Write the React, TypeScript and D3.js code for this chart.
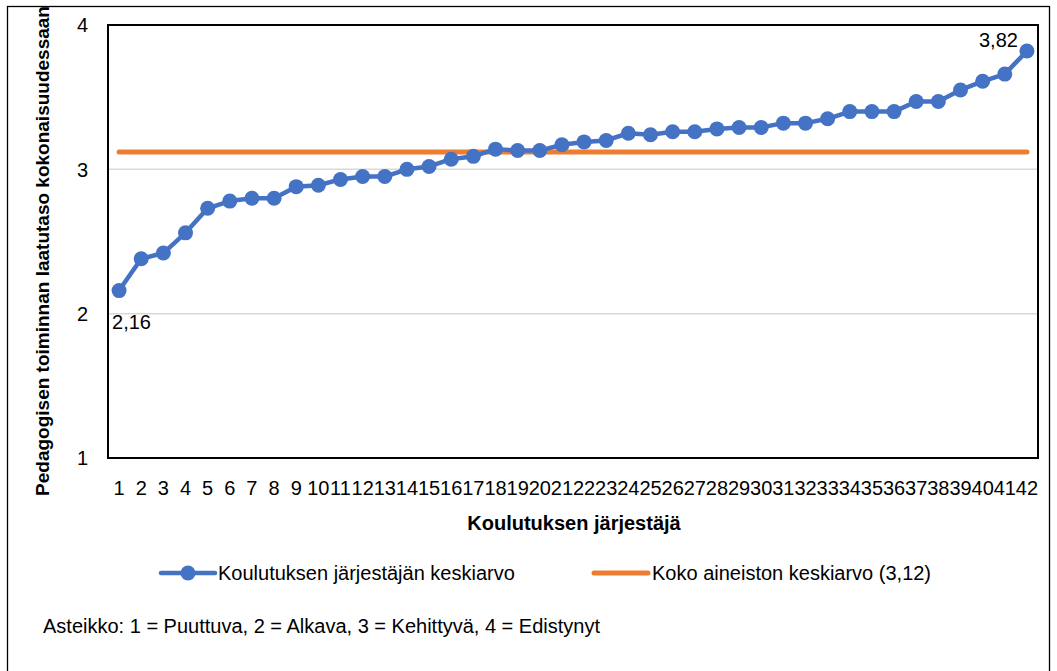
import React from "react";
import * as d3 from "d3";

// Organisers (1..42) sorted by their mean score
const providers: string[] = Array.from({ length: 42 }, (_, i) => String(i + 1));
const providerMeans: number[] = [
  2.16, 2.38, 2.42, 2.56, 2.73, 2.78, 2.8, 2.8, 2.88, 2.89,
  2.93, 2.95, 2.95, 3.0, 3.02, 3.07, 3.09, 3.14, 3.13, 3.13,
  3.17, 3.19, 3.2, 3.25, 3.24, 3.26, 3.26, 3.28, 3.29, 3.29,
  3.32, 3.32, 3.35, 3.4, 3.4, 3.4, 3.47, 3.47, 3.55, 3.61,
  3.66, 3.82,
];
const overallMean = 3.12;
const yTicks: number[] = [1, 2, 3, 4];

const seriesLabel = "Koulutuksen järjestäjän keskiarvo";
const overallLabel = "Koko aineiston keskiarvo (3,12)";
const xTitle = "Koulutuksen järjestäjä";
const yTitle = "Pedagogisen toiminnan laatutaso kokonaisuudessaan";
const scaleNote = "Asteikko: 1 = Puuttuva, 2 = Alkava, 3 = Kehittyvä, 4 = Edistynyt";

const W = 1057;
const H = 671;
const plot = { left: 108, right: 1038, top: 25, bottom: 458 };
const FONT = "'Liberation Sans', Arial, sans-serif";
const BLUE = "#4472C4";
const ORANGE = "#ED7D31";

const fmt = (v: number) => v.toFixed(2).replace(".", ",");

export default function App() {
  const x = d3
    .scaleBand<string>()
    .domain(providers)
    .range([plot.left, plot.right])
    .padding(0);
  const cx = (p: string) => (x(p) ?? 0) + x.bandwidth() / 2;
  const y = d3.scaleLinear().domain([1, 4]).range([plot.bottom, plot.top]);

  const line = d3
    .line<number>()
    .x((_, i) => cx(providers[i]))
    .y((d) => y(d));

  const first = providers[0];
  const last = providers[providers.length - 1];

  return (
    <svg
      width={W}
      height={H}
      style={{ position: "absolute", left: 0, top: 0, display: "block" }}
      fontFamily={FONT}
    >
      <rect x={0} y={0} width={W} height={H} fill="#fff" />
      {/* outer frame */}
      <rect x={7.5} y={6.5} width={1042} height={H + 10} fill="none" stroke="#000" strokeWidth={1.3} />

      {/* gridlines */}
      {yTicks.map((t) => (
        <line key={t} x1={plot.left} x2={plot.right} y1={y(t)} y2={y(t)} stroke="#d9d9d9" strokeWidth={1.5} />
      ))}

      {/* plot border */}
      <rect
        x={plot.left}
        y={plot.top}
        width={plot.right - plot.left}
        height={plot.bottom - plot.top}
        fill="none"
        stroke="#000"
        strokeWidth={2}
      />

      {/* y tick labels */}
      {yTicks.map((t) => (
        <text key={t} x={88} y={y(t)} dy="0.36em" textAnchor="end" fontSize={20} fill="#000">
          {t}
        </text>
      ))}

      {/* x tick labels */}
      {providers.map((p) => (
        <text key={p} x={cx(p)} y={495} textAnchor="middle" fontSize={20} fill="#000">
          {p}
        </text>
      ))}

      {/* overall mean */}
      <line x1={cx(first)} x2={cx(last)} y1={y(overallMean)} y2={y(overallMean)} stroke={ORANGE} strokeWidth={5} strokeLinecap="round" />

      {/* provider means */}
      <path d={line(providerMeans) ?? ""} fill="none" stroke={BLUE} strokeWidth={4.5} strokeLinejoin="round" />
      {providerMeans.map((v, i) => (
        <circle key={i} cx={cx(providers[i])} cy={y(v)} r={7.5} fill={BLUE} />
      ))}

      {/* data labels */}
      <text x={cx(first) - 7} y={y(providerMeans[0]) + 38} fontSize={20} fill="#000">
        {fmt(providerMeans[0])}
      </text>
      <text x={cx(last) - 9} y={y(providerMeans[providerMeans.length - 1]) - 4} textAnchor="end" fontSize={20} fill="#000">
        {fmt(providerMeans[providerMeans.length - 1])}
      </text>

      {/* axis titles */}
      <text x={574} y={530} textAnchor="middle" fontSize={20} fontWeight="bold" fill="#000">
        {xTitle}
      </text>
      <text
        transform={`translate(49, 251) rotate(-90)`}
        textAnchor="middle"
        fontSize={19}
        fontWeight="bold"
        fill="#000"
      >
        {yTitle}
      </text>

      {/* legend */}
      <line x1={161} x2={215} y1={573} y2={573} stroke={BLUE} strokeWidth={4.5} strokeLinecap="round" />
      <circle cx={188} cy={573} r={7.5} fill={BLUE} />
      <text x={218} y={580} fontSize={20} fill="#000">
        {seriesLabel}
      </text>
      <line x1={594} x2={648} y1={573} y2={573} stroke={ORANGE} strokeWidth={5} strokeLinecap="round" />
      <text x={652} y={580} fontSize={20} fill="#000">
        {overallLabel}
      </text>

      {/* scale note */}
      <text x={43} y={633} fontSize={20} fill="#000">
        {scaleNote}
      </text>
    </svg>
  );
}
